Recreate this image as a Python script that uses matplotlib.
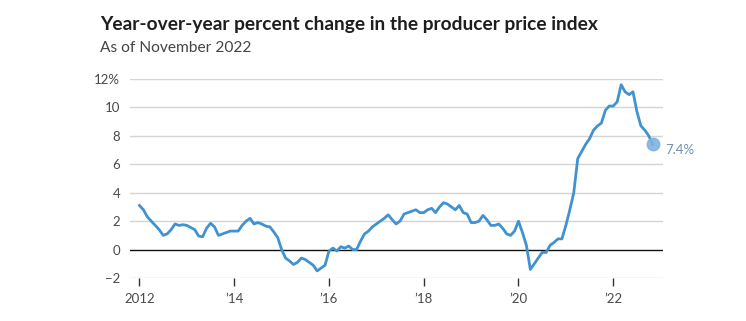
import matplotlib
matplotlib.use("Agg")
import matplotlib.pyplot as plt
import numpy as np

# Monthly YoY % change in PPI, Jan 2012 - Nov 2022
y2012 = [3.1, 2.8, 2.3, 2.0, 1.7, 1.4, 1.0, 1.1, 1.4, 1.8, 1.7, 1.75]
y2013 = [1.7, 1.55, 1.4, 0.95, 0.9, 1.5, 1.85, 1.6, 1.0, 1.1, 1.2, 1.3]
y2014 = [1.3, 1.3, 1.7, 2.0, 2.2, 1.8, 1.9, 1.8, 1.65, 1.6, 1.25, 0.85]
y2015 = [0.0, -0.6, -0.8, -1.05, -0.9, -0.6, -0.7, -0.9, -1.1, -1.5, -1.3, -1.1]
y2016 = [-0.1, 0.1, -0.1, 0.2, 0.1, 0.25, 0.0, 0.0, 0.6, 1.1, 1.3, 1.6]
y2017 = [1.8, 2.0, 2.2, 2.45, 2.1, 1.8, 2.0, 2.5, 2.6, 2.7, 2.8, 2.6]
y2018 = [2.6, 2.8, 2.9, 2.6, 3.0, 3.3, 3.2, 3.0, 2.8, 3.1, 2.6, 2.5]
y2019 = [1.9, 1.9, 2.0, 2.4, 2.1, 1.7, 1.7, 1.8, 1.5, 1.1, 1.0, 1.3]
y2020 = [2.0, 1.2, 0.3, -1.4, -1.0, -0.6, -0.2, -0.2, 0.3, 0.5, 0.75, 0.75]
y2021 = [1.7, 2.8, 4.0, 6.4, 6.9, 7.4, 7.8, 8.4, 8.7, 8.9, 9.8, 10.1]
y2022 = [10.1, 10.4, 11.6, 11.1, 10.9, 11.1, 9.7, 8.7, 8.4, 8.0, 7.4]

values = y2012 + y2013 + y2014 + y2015 + y2016 + y2017 + y2018 + y2019 + y2020 + y2021 + y2022
dates = 2012 + np.arange(len(values)) / 12.0

ytick_vals = [-2, 0, 2, 4, 6, 8, 10, 12]
ytick_labels = ["\u22122", "0", "2", "4", "6", "8", "10", "12%"]
xtick_vals = [2012, 2014, 2016, 2018, 2020, 2022]
xtick_labels = ["2012", "\u201914", "\u201916", "\u201918", "\u201920", "\u201922"]

title = "Year-over-year percent change in the producer price index"
subtitle = "As of November 2022"
end_label = "7.4%"

plt.rcParams['font.family'] = ['Lato', 'DejaVu Sans']

fig = plt.figure(figsize=(7.46, 3.21), dpi=100)
ax = fig.add_axes([130/746, 1-278/321, 533/746, 199/321])

line_color = "#4192d0"
ax.set_xlim(2011.80, 2023.05)
ax.set_ylim(-2, 12)

for v in ytick_vals:
    if v == 0:
        ax.axhline(v, color="#111111", lw=1.0, zorder=2)
    else:
        ax.axhline(v, color="#d4d4d4", lw=1.0, zorder=1)

ax.plot(dates, values, color=line_color, lw=2.0, zorder=3, solid_joinstyle='round', clip_on=False)
ax.plot(dates[-1], values[-1], 'o', ms=9, color="#7fb3df", alpha=0.9, zorder=4, clip_on=False)
ax.annotate(end_label, (dates[-1], values[-1]), xytext=(9, -4), textcoords='offset points',
            fontsize=9.5, color="#6f8fb3", va='center', ha='left', annotation_clip=False)

for s in ax.spines.values():
    s.set_visible(False)

ax.set_yticks(ytick_vals)
ax.set_yticklabels(ytick_labels)
ax.tick_params(axis='y', length=0, pad=7, labelsize=9.5, labelcolor="#4a4a4a")
ax.set_xticks(xtick_vals)
ax.set_xticklabels(xtick_labels)
ax.tick_params(axis='x', length=6, width=1, color="#333333", pad=5, labelsize=9.5, labelcolor="#4a4a4a")

fig.text(100/746, 1-30/321, title, fontsize=13.8, fontweight='bold', color="#1e1e1e", va='baseline', ha='left')
fig.text(100/746, 1-52/321, subtitle, fontsize=11.2, color="#444444", va='baseline', ha='left')

fig.savefig("out.png", dpi=100)
